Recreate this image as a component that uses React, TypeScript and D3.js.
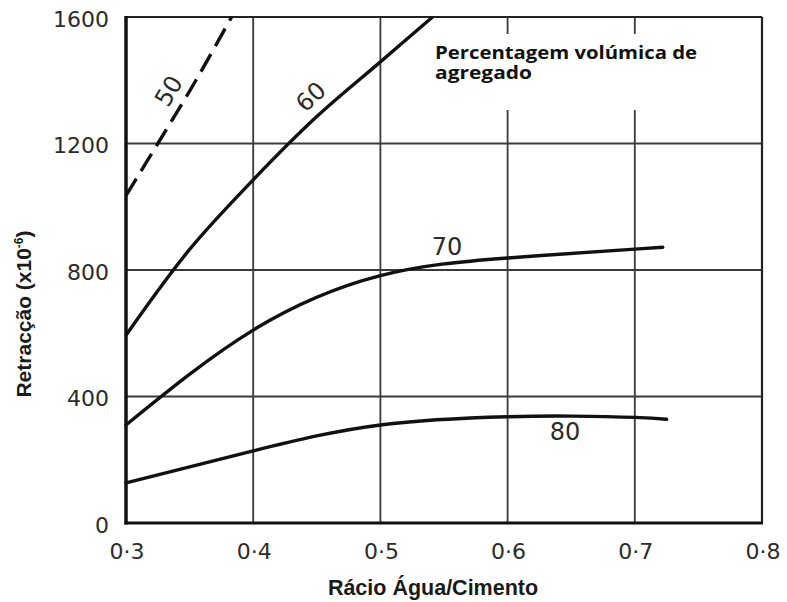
import React from "react";
import * as d3 from "d3";

const xTicks = [0.3, 0.4, 0.5, 0.6, 0.7, 0.8];
const xTickLabels = ["0·3", "0·4", "0·5", "0·6", "0·7", "0·8"];
const yTicks = [0, 400, 800, 1200, 1600];
const yTickLabels = ["0", "400", "800", "1200", "1600"];

// Aggregate volume percentage curves: water/cement ratio vs shrinkage (x10^-6)
const ratio50 = [0.3, 0.325, 0.355, 0.383];
const shrink50 = [1035, 1200, 1400, 1600];

const ratio60 = [0.3, 0.35, 0.4, 0.45, 0.5, 0.541];
const shrink60 = [594, 865, 1085, 1285, 1458, 1600];

const ratio70 = [0.3, 0.4, 0.5, 0.6, 0.7, 0.722];
const shrink70 = [310, 610, 782, 838, 866, 872];

const ratio80 = [0.3, 0.4, 0.5, 0.6, 0.65, 0.7, 0.725];
const shrink80 = [127, 228, 310, 336, 338, 334, 328];

const W = 787;
const H = 602;

export default function App() {
  const x = d3.scaleLinear().domain([0.3, 0.8]).range([126, 762]);
  const y = d3.scaleLinear().domain([0, 1600]).range([523, 17]);

  const mkLine = (curve: d3.CurveFactory) =>
    d3
      .line<[number, number]>()
      .x((d) => x(d[0]))
      .y((d) => y(d[1]))
      .curve(curve);
  const natural = mkLine(d3.curveNatural);
  const smooth = mkLine(d3.curveCatmullRom.alpha(0.5));

  const zip = (a: number[], b: number[]) => a.map((v, i) => [v, b[i]] as [number, number]);

  const tickFont = "'DejaVu Sans', sans-serif";
  const ink = "#2b2b2b";

  return (
    <svg
      width={W}
      height={H}
      viewBox={`0 0 ${W} ${H}`}
      style={{ position: "absolute", left: 0, top: 0, background: "#fff" }}
    >
      <rect x={0} y={0} width={W} height={H} fill="#fff" />
      {/* grid */}
      {yTicks.slice(1, -1).map((t) => (
        <line key={"gy" + t} x1={x(0.3)} x2={x(0.8)} y1={y(t)} y2={y(t)} stroke="#3a3a3a" strokeWidth={1.8} />
      ))}
      {xTicks.slice(1, -1).map((t) => (
        <line key={"gx" + t} x1={x(t)} x2={x(t)} y1={y(0)} y2={y(1600)} stroke="#3a3a3a" strokeWidth={1.8} />
      ))}
      {/* frame */}
      <line x1={x(0.3)} x2={x(0.8)} y1={y(1600)} y2={y(1600)} stroke="#222" strokeWidth={2.2} />
      <line x1={x(0.8)} x2={x(0.8)} y1={y(0)} y2={y(1600)} stroke="#222" strokeWidth={2.2} />
      {/* white box behind annotation */}
      <rect x={423} y={34} width={290} height={76} fill="#fff" />
      <line x1={x(0.3)} x2={x(0.3)} y1={y(0) + 1.5} y2={y(1600) - 1} stroke="#111" strokeWidth={3.5} />
      <line x1={x(0.3) - 1.5} x2={x(0.8) + 1} y1={y(0)} y2={y(0)} stroke="#111" strokeWidth={3.2} />

      {/* curves */}
      <path d={smooth(zip(ratio50, shrink50)) || ""} fill="none" stroke="#111" strokeWidth={3.4} strokeDasharray="20 9" />
      <path d={smooth(zip(ratio60, shrink60)) || ""} fill="none" stroke="#111" strokeWidth={3.4} />
      <path d={natural(zip(ratio70, shrink70)) || ""} fill="none" stroke="#111" strokeWidth={3.4} strokeLinecap="round" />
      <path d={natural(zip(ratio80, shrink80)) || ""} fill="none" stroke="#111" strokeWidth={3.4} strokeLinecap="round" />

      {/* curve labels */}
      <g fontFamily={tickFont} fontSize={24} fill={ink}>
        <text x={169} y={91} transform="rotate(-59 169 91)" textAnchor="middle" dominantBaseline="central">50</text>
        <text x={311} y={97} transform="rotate(-43 311 97)" textAnchor="middle" dominantBaseline="central">60</text>
        <text x={447} y={247} textAnchor="middle" dominantBaseline="central">70</text>
        <text x={565} y={432} textAnchor="middle" dominantBaseline="central">80</text>
      </g>

      {/* tick labels */}
      <g fontFamily={tickFont} fontSize={22} fill={ink}>
        {yTicks.map((t, i) => (
          <text key={"yl" + t} x={109} y={y(t) + 2} textAnchor="end" dominantBaseline="central">
            {yTickLabels[i]}
          </text>
        ))}
        {xTicks.map((t, i) => (
          <text key={"xl" + t} x={x(t) + 1} y={551} textAnchor="middle" dominantBaseline="central">
            {xTickLabels[i]}
          </text>
        ))}
      </g>

      {/* axis titles */}
      <text x={433} y={595} textAnchor="middle" fontFamily="'Liberation Sans', Arial, sans-serif" fontWeight="bold" fontSize={21.5} fill="#1a1a1a">
        Rácio Água/Cimento
      </text>
      <text
        transform="translate(31 314) rotate(-90)"
        textAnchor="middle"
        fontFamily="'Liberation Sans', Arial, sans-serif"
        fontWeight="bold"
        fontSize={21}
        fill="#1a1a1a"
      >
        Retracção (x10
        <tspan fontSize={12} dy={-8}>-6</tspan>
        <tspan dy={8}>)</tspan>
      </text>

      {/* annotation */}
      <text fontFamily="'Open Sans', sans-serif" fontWeight="bold" fontSize={18} fill="#111">
        <tspan x={435} y={59} textLength={262} lengthAdjust="spacingAndGlyphs">Percentagem volúmica de</tspan>
        <tspan x={435} y={79} textLength={97} lengthAdjust="spacingAndGlyphs">agregado</tspan>
      </text>
    </svg>
  );
}
